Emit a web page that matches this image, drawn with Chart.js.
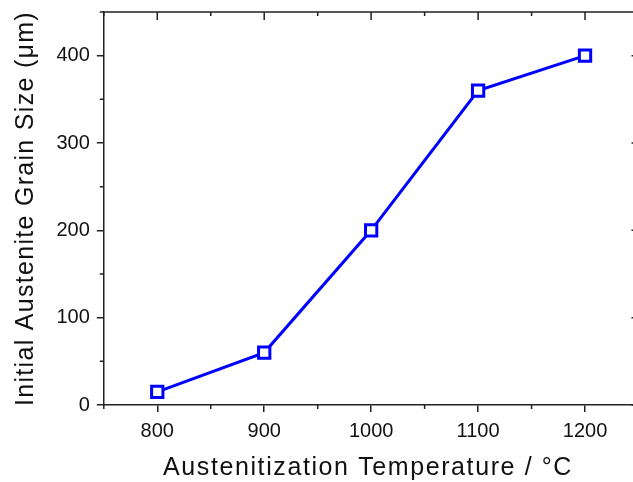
<!DOCTYPE html>
<html>
<head>
<meta charset="utf-8">
<script src="https://cdn.jsdelivr.net/npm/chart.js@4.4.1/dist/chart.umd.min.js"></script>
<style>
  html, body { margin: 0; padding: 0; background: #fff; overflow: hidden; }
  #wrap { width: 633px; height: 482px; overflow: hidden; }
</style>
</head>
<body>
<div id="wrap"><canvas id="grain" width="633" height="482"></canvas></div>
<script>
// data
var temps = [800, 900, 1000, 1100, 1200];
var grainSize = [15, 60, 200, 360, 400];

var xTicks = [800, 900, 1000, 1100, 1200];
var xMinor = [750, 850, 950, 1050, 1150, 1250];
var yTicks = [0, 100, 200, 300, 400];
var yMinor = [50, 150, 250, 350, 450];

var xTitle = 'Austenitization Temperature / °C';
var yTitle = 'Initial Austenite Grain Size (μm)';

var axisColor = '#222';
var fontFam = '"Liberation Sans", Arial, sans-serif';

var points = [];
for (var i = 0; i < temps.length; i++) {
  points.push({x: temps[i], y: grainSize[i]});
}

// plot box of the original; its right edge is just past the picture edge
var box = { left: 103.8, top: 12, right: 638.5, bottom: 405 };

var fixArea = {
  id: 'fixArea',
  afterLayout: function(chart) {
    var a = chart.chartArea, xs = chart.scales.x, ys = chart.scales.y;
    a.left = box.left; a.right = box.right; a.top = box.top; a.bottom = box.bottom;
    a.width = a.right - a.left; a.height = a.bottom - a.top;
    xs.left = box.left; xs.right = box.right; xs.width = box.right - box.left;
    xs.top = box.bottom; xs.bottom = chart.height; xs.height = xs.bottom - xs.top;
    ys.top = box.top; ys.bottom = box.bottom; ys.height = box.bottom - box.top;
    ys.left = 0; ys.right = box.left; ys.width = box.left;
    xs.configure();
    ys.configure();
  }
};

// frame on top/right plus minor ticks and inward mirror ticks
var frameTicks = {
  id: 'frameTicks',
  afterDraw: function(chart) {
    var c = chart.ctx, a = chart.chartArea;
    var xs = chart.scales.x, ys = chart.scales.y;
    c.save();
    c.strokeStyle = axisColor;
    c.lineWidth = 1.5;
    c.beginPath();
    c.moveTo(a.left, a.top); c.lineTo(a.right, a.top); c.lineTo(a.right, a.bottom);
    xTicks.forEach(function(v) {
      var px = xs.getPixelForValue(v);
      c.moveTo(px, a.top); c.lineTo(px, a.top + 8);
    });
    xMinor.forEach(function(v) {
      var px = xs.getPixelForValue(v);
      c.moveTo(px, a.top); c.lineTo(px, a.top + 4);
      c.moveTo(px, a.bottom); c.lineTo(px, a.bottom + 4);
    });
    yTicks.forEach(function(v) {
      var py = ys.getPixelForValue(v);
      c.moveTo(a.right, py); c.lineTo(a.right - 7, py);
    });
    yMinor.forEach(function(v) {
      var py = ys.getPixelForValue(v);
      c.moveTo(a.right, py); c.lineTo(a.right - 4, py);
      c.moveTo(a.left, py); c.lineTo(a.left - 4, py);
    });
    c.stroke();

    // axis titles, a bit wider spaced like the original
    c.fillStyle = '#111';
    c.font = '25px ' + fontFam;
    c.textBaseline = 'alphabetic';
    c.textAlign = 'center';
    if ('letterSpacing' in c) c.letterSpacing = '1.6px';
    c.fillText(xTitle, 368, 475);
    if ('letterSpacing' in c) c.letterSpacing = '1.3px';
    c.translate(33, (a.top + a.bottom) / 2);
    c.rotate(-Math.PI / 2);
    c.fillText(yTitle, 0, 0);
    c.restore();
  }
};

var ctx = document.getElementById('grain');
var grainChart = new Chart(ctx, {
  type: 'line',
  data: {
    datasets: [{
      data: points,
      borderColor: '#0000ff',
      borderWidth: 3,
      pointStyle: 'rect',
      pointRadius: 8,
      pointBorderWidth: 3,
      pointBorderColor: '#0000ff',
      pointBackgroundColor: '#ffffff',
      tension: 0
    }]
  },
  options: {
    responsive: false,
    animation: false,
    devicePixelRatio: 1,
    layout: { padding: { top: 12, right: 2, left: 0, bottom: 0 } },
    plugins: {
      legend: { display: false },
      tooltip: { enabled: false }
    },
    scales: {
      x: {
        type: 'linear',
        min: 750,
        max: 1250,
        afterBuildTicks: function(s) { s.ticks = xTicks.map(function(v) { return {value: v}; }); },
        grid: { drawOnChartArea: false, tickLength: 7, color: axisColor, lineWidth: 1.5 },
        border: { display: true, color: axisColor, width: 1.5 },
        ticks: {
          color: '#111', padding: 7, font: { family: fontFam, size: 20 },
          callback: function(v) { return String(v); }
        }
      },
      y: {
        min: 0,
        max: 450,
        afterBuildTicks: function(s) { s.ticks = yTicks.map(function(v) { return {value: v}; }); },
        grid: { drawOnChartArea: false, tickLength: 7, color: axisColor, lineWidth: 1.5 },
        border: { display: true, color: axisColor, width: 1.5 },
        ticks: {
          color: '#111', padding: 7, font: { family: fontFam, size: 20 },
          callback: function(v) { return String(v); }
        }
      }
    }
  },
  plugins: [fixArea, frameTicks]
});
</script>
</body>
</html>
